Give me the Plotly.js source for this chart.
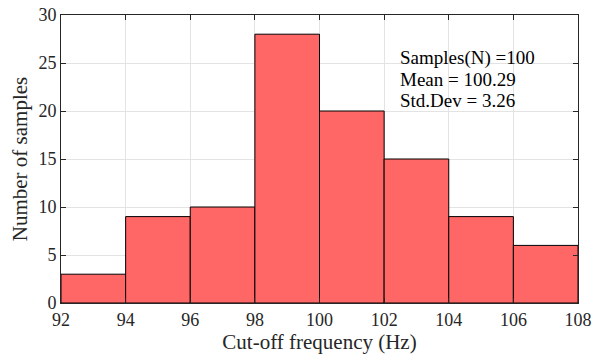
<!DOCTYPE html>
<html>
<head>
<meta charset="utf-8">
<script src="https://cdn.plot.ly/plotly-3.0.1.min.js"></script>
<style>html,body{margin:0;padding:0;background:#fff;}#chart{width:598px;height:356px;}</style>
</head>
<body>
<div id="chart"></div>
<script>
const binStarts = [92, 94, 96, 98, 100, 102, 104, 106];
const binWidth = 2;
const counts = [3, 9, 10, 28, 20, 15, 9, 6];
const xTicks = [92, 94, 96, 98, 100, 102, 104, 106, 108];
const yTicks = [0, 5, 10, 15, 20, 25, 30];
const statsText = ["Samples(N) =100", "Mean = 100.29", "Std.Dev = 3.26"];

const font = "Liberation Serif, Times New Roman, serif";

const trace = {
  type: 'bar',
  x: binStarts,
  y: counts,
  width: binStarts.map(() => binWidth),
  offset: 0,
  marker: {color: '#FF6666', line: {color: '#000000', width: 1}},
  hoverinfo: 'none'
};

const annTop = 0.851, annStep = 0.0747;
const annotations = statsText.map((t, i) => ({
  xref: 'paper', yref: 'paper',
  x: 0.653, y: annTop - i * annStep, xanchor: 'left', yanchor: 'middle',
  text: t, showarrow: false, borderpad: 0,
  font: {family: font, size: 19, color: '#000000'}
}));

const layout = {
  width: 598, height: 356,
  margin: {l: 61, r: 20, t: 15, b: 53},
  paper_bgcolor: '#ffffff', plot_bgcolor: '#ffffff',
  showlegend: false,
  bargap: 0,
  font: {family: font, size: 18, color: '#262626'},
  xaxis: {
    range: [92, 108],
    tickvals: xTicks,
    ticks: 'inside', ticklen: 5, tickcolor: '#262626',
    showline: true, linecolor: '#262626', linewidth: 1, mirror: 'ticks',
    showgrid: true, gridcolor: '#e3e3e3',
    zeroline: false,
    tickfont: {family: font, size: 18, color: '#262626'},
    title: {text: 'Cut-off frequency (Hz)', font: {family: font, size: 21, color: '#262626'}, standoff: 3}
  },
  yaxis: {
    range: [0, 30],
    tickvals: yTicks,
    ticks: 'inside', ticklen: 5, tickcolor: '#262626',
    showline: true, linecolor: '#262626', linewidth: 1, mirror: 'ticks',
    showgrid: true, gridcolor: '#e3e3e3',
    zeroline: false,
    tickfont: {family: font, size: 18, color: '#262626'},
    title: {text: 'Number of samples', font: {family: font, size: 21, color: '#262626'}, standoff: 5}
  },
  annotations: annotations
};

Plotly.newPlot('chart', [trace], layout, {displayModeBar: false, staticPlot: true});
</script>
</body>
</html>
